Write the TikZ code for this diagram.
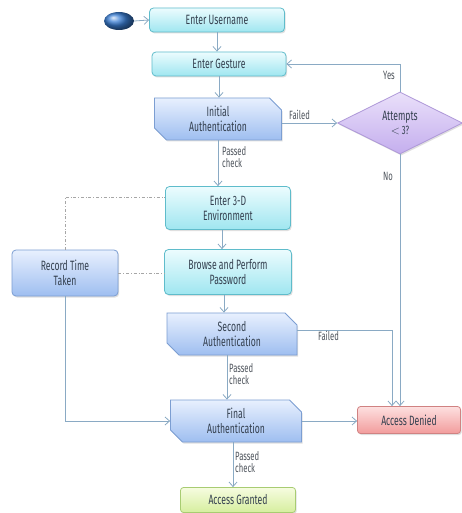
\documentclass[tikz,border=0pt]{standalone}
\usepackage{fontspec}
\setmainfont[FakeStretch=0.64]{Fira Sans}
\usetikzlibrary{shapes.geometric,shapes.misc,arrows.meta,shadows,calc}
\definecolor{txt}{HTML}{34404F}
\definecolor{lbl}{HTML}{4E545C}
\definecolor{conn}{HTML}{8AAAC4}
\definecolor{cyantop}{HTML}{ECFCFE}
\definecolor{cyanbot}{HTML}{9FE6F0}
\definecolor{cyanedge}{HTML}{5FBCCB}
\definecolor{bluetop}{HTML}{E8F0FE}
\definecolor{bluebot}{HTML}{9EBEF0}
\definecolor{blueedge}{HTML}{7C9ED2}
\definecolor{purtop}{HTML}{EAE0FA}
\definecolor{purbot}{HTML}{C4AEEE}
\definecolor{puredge}{HTML}{AE98D8}
\definecolor{redtop}{HTML}{FDE0E0}
\definecolor{redbot}{HTML}{F29C9C}
\definecolor{rededge}{HTML}{D08282}
\definecolor{grntop}{HTML}{F6FCE0}
\definecolor{grnbot}{HTML}{D6EE9E}
\definecolor{grnedge}{HTML}{A8CC72}
\definecolor{balldark}{HTML}{3A7ED4}
\begin{document}
\begin{tikzpicture}[x=1pt,y=-1pt,
  base/.style={inner sep=0pt, align=center, text=txt, font=\fontsize{13.5}{15}\selectfont,
     drop shadow={shadow xshift=1.2pt, shadow yshift=-1.5pt, opacity=0.25}},
  cyanbox/.style={base, rectangle, rounded corners=4pt, draw=cyanedge, line width=0.8pt,
     top color=cyantop, bottom color=cyanbot},
  authbox/.style={base, chamfered rectangle, chamfered rectangle corners={north east,south west},
     chamfered rectangle xsep=6pt, chamfered rectangle ysep=6pt,
     draw=blueedge, line width=0.8pt, top color=bluetop, bottom color=bluebot},
  recbox/.style={base, rectangle, rounded corners=4pt, draw=blueedge, line width=0.8pt,
     top color=bluetop, bottom color=bluebot},
  denybox/.style={base, rectangle, rounded corners=3pt, draw=rededge, line width=0.8pt,
     top color=redtop, bottom color=redbot},
  grantbox/.style={base, rectangle, rounded corners=3pt, draw=grnedge, line width=0.8pt,
     top color=grntop, bottom color=grnbot},
  decide/.style={base, diamond, draw=puredge, line width=0.8pt, top color=purtop, bottom color=purbot},
  conn/.style={draw=conn, line width=0.8pt, -{Straight Barb[length=4.5pt,width=8pt]}},
  dd/.style={draw=gray!70, line width=0.6pt, dash dot},
  lab/.style={text=lbl, font=\fontsize{12}{12.5}\selectfont, inner sep=0pt, align=left}
]
\fill[white] (0,0) rectangle (462,513);
\useasboundingbox (0,0) rectangle (462,513);

\node[ellipse, minimum width=30pt, minimum height=18pt, inner sep=0pt, shading=ball, ball color=balldark] (start) at (119,21) {};
\node[cyanbox, minimum width=135pt, minimum height=24pt] (user) at (217,20) {Enter Username};
\node[cyanbox, minimum width=134pt, minimum height=24pt] (gest) at (219,64) {Enter Gesture};
\node[authbox, minimum width=127pt, minimum height=42pt] (init) at (218,119) {Initial\\Authentication};
\node[decide, minimum width=125pt, minimum height=62pt] (att) at (400,123) {Attempts\\[-1pt]{\fontsize{12}{13}\selectfont $<$ 3?}};
\node[cyanbox, minimum width=125pt, minimum height=43pt] (env) at (228,208) {Enter 3-D\\Environment};
\node[cyanbox, minimum width=127pt, minimum height=45pt] (brow) at (228,272) {Browse and Perform\\Password};
\node[recbox, minimum width=106pt, minimum height=46pt] (rec) at (65,273) {Record Time\\Taken};
\node[authbox, minimum width=130pt, minimum height=42pt] (sec) at (232,334) {Second\\Authentication};
\node[authbox, minimum width=131pt, minimum height=42pt] (fin) at (236,421) {Final\\Authentication};
\node[denybox, minimum width=103pt, minimum height=27pt] (deny) at (409,420) {Access Denied};
\node[grantbox, minimum width=115pt, minimum height=25pt] (grant) at (238,500) {Access Granted};

% connectors
\draw[conn] (start.east) -- (user.west);
\draw[conn] (user.south) -- (user.south |- gest.north);
\draw[conn] (gest.south) -- (gest.south |- init.north);
\draw[conn] (init.south) -- (init.south |- env.north);
\draw[conn] ([xshift=-6pt]env.south) -- ([xshift=-6pt]env.south |- brow.north);
\draw[conn] ([xshift=-4pt]brow.south) -- ([xshift=-4pt]brow.south |- sec.north);
\draw[conn] ([xshift=-5pt]sec.south) -- ([xshift=-5pt]sec.south |- fin.north);
\draw[conn] ([xshift=-3pt]fin.south) -- ([xshift=-3pt]fin.south |- grant.north);
\draw[conn] (init.east |- att.west) -- (att.west);
\draw[conn] (att.north) -- (att.north |- gest.east) -- (gest.east);
\draw[conn] (att.south) -- (att.south |- deny.north);
\draw[conn] ([yshift=4pt]sec.east) -| ([xshift=-17pt]deny.north);
\draw[conn] (fin.east) -- (fin.east -| deny.west);
\draw[conn] (rec.south) |- (fin.west);
\draw[dd] (rec.north) |- ([yshift=11pt]env.west);
\draw[dd] (rec.east) -- (rec.east -| brow.west);

% labels
\node[lab, anchor=south west] (l1) at (289,120) {Failed};
\node[lab, anchor=north west] (l2) at (222,146) {Passed\\check};
\node[lab, anchor=center] (l3) at (389,75) {Yes};
\node[lab, anchor=center] (l4) at (388,176) {No};
\node[lab, anchor=north west] (l5) at (318,331) {Failed};
\node[lab, anchor=north west] (l6) at (229,363) {Passed\\check};
\node[lab, anchor=north west] (l7) at (235,451) {Passed\\check};
\end{tikzpicture}
\end{document}
